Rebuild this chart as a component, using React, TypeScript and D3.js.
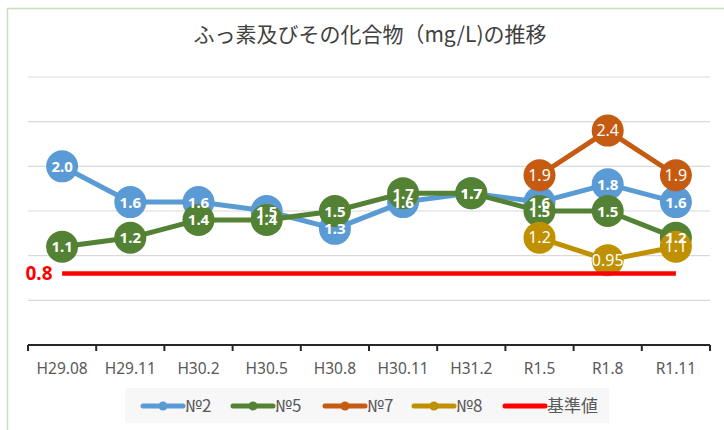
import React from "react";
import * as d3 from "d3";

// data
const categories = ["H29.08", "H29.11", "H30.2", "H30.5", "H30.8", "H30.11", "H31.2", "R1.5", "R1.8", "R1.11"];
const no2 = [2.0, 1.6, 1.6, 1.5, 1.3, 1.6, 1.7, 1.6, 1.8, 1.6];
const no5 = [1.1, 1.2, 1.4, 1.4, 1.5, 1.7, 1.7, 1.5, 1.5, 1.2];
const no7 = [null, null, null, null, null, null, null, 1.9, 2.4, 1.9];
const no8 = [null, null, null, null, null, null, null, 1.2, 0.95, 1.1];
const standard = 0.8;
const yTicks = [0, 0.5, 1, 1.5, 2, 2.5, 3];

const series = [
  { name: "№2", values: no2, color: "#5b9bd5", bold: true },
  { name: "№5", values: no5, color: "#548235", bold: true },
  { name: "№7", values: no7, color: "#c55a11", bold: false },
  { name: "№8", values: no8, color: "#bf9000", bold: false },
];

const W = 724;
const H = 430;
const jp = "'Noto Sans CJK JP', 'Noto Sans', sans-serif";
const latin = "'Noto Sans', 'Noto Sans CJK JP', sans-serif";

const fmt = (v: number) => (v === 0.95 ? "0.95" : d3.format(".1f")(v));

const App = () => {
  const x = d3.scaleBand().domain(categories).range([28, 710]);
  const y = d3.scaleLinear().domain([0, 3]).range([345, 77]);
  const cx = (i: number) => (x(categories[i]) as number) + x.bandwidth() / 2;

  const line = d3
    .line<number | null>()
    .defined(d => d != null)
    .x((d, i) => cx(i))
    .y(d => y(d as number));

  const tickXs = categories.map(c => x(c) as number).concat([x.range()[1]]);

  const legendItems = [...series.map(s => ({ name: s.name, color: s.color, marker: true })), { name: "基準値", color: "#ff0000", marker: false }];
  const legendX = [143, 233, 325, 414, 505];

  return (
    <div>
      <style>{"body{margin:0}"}</style>
      <svg width={W} height={H} style={{ display: "block", background: "#fff" }}>
        <rect x={7.5} y={8.5} width={740} height={440} fill="#fff" stroke="#c5e0b4" strokeWidth={1.5} />

        <text x={370} y={42} textAnchor="middle" fontFamily={jp} fontSize={21} fill="#404040">
          ふっ素及びその化合物（mg/L)の推移
        </text>

        {/* gridlines */}
        {yTicks.slice(1).map(t => (
          <line key={t} x1={28} x2={710} y1={y(t)} y2={y(t)} stroke="#d9d9d9" strokeWidth={1.2} />
        ))}

        {/* x axis */}
        <line x1={28} x2={710} y1={y(0)} y2={y(0)} stroke="#262626" strokeWidth={2} />
        {tickXs.map((t, i) => (
          <line key={i} x1={t} x2={t} y1={y(0)} y2={y(0) + 6} stroke="#262626" strokeWidth={2} />
        ))}
        {categories.map((c, i) => (
          <text key={c} x={cx(i)} y={374} textAnchor="middle" fontFamily={latin} fontSize={15.5} fill="#595959">
            {c}
          </text>
        ))}

        {/* series lines and markers */}
        {series.map(s => (
          <g key={s.name}>
            <path d={line(s.values) || ""} fill="none" stroke={s.color} strokeWidth={5} strokeLinejoin="round" />
            {s.values.map((v, i) =>
              v == null ? null : <circle key={i} cx={cx(i)} cy={y(v)} r={16} fill={s.color} />
            )}
          </g>
        ))}

        {/* standard line */}
        <line x1={cx(0)} x2={cx(categories.length - 1)} y1={y(standard)} y2={y(standard)} stroke="#ff0000" strokeWidth={4.5} />
        <text x={39} y={y(standard) + 6.5} textAnchor="middle" fontFamily={latin} fontSize={19} fontWeight="bold" fill="#ff0000">
          {fmt(standard)}
        </text>

        {/* data labels */}
        {series.map(s =>
          s.values.map((v, i) =>
            v == null ? null : (
              <text
                key={s.name + i}
                x={cx(i)}
                y={y(v) + 5.5}
                textAnchor="middle"
                fontFamily={latin}
                fontSize={s.bold ? 15 : 16}
                fontWeight={s.bold ? "bold" : "normal"}
                fill="#fff"
              >
                {fmt(v)}
              </text>
            )
          )
        )}

        {/* legend */}
        <rect x={125} y={388} width={484} height={35} fill="#f7f7f7" />
        {legendItems.map((l, i) => (
          <g key={l.name} transform={`translate(${legendX[i]},406)`}>
            <line x1={0} x2={40} y1={0} y2={0} stroke={l.color} strokeWidth={5} strokeLinecap="round" />
            {l.marker && <circle cx={20} cy={0} r={4.5} fill={l.color} />}
            <text x={42} y={6} fontFamily={jp} fontSize={17} fill="#595959">
              {l.name}
            </text>
          </g>
        ))}
      </svg>
    </div>
  );
};

export default App;
